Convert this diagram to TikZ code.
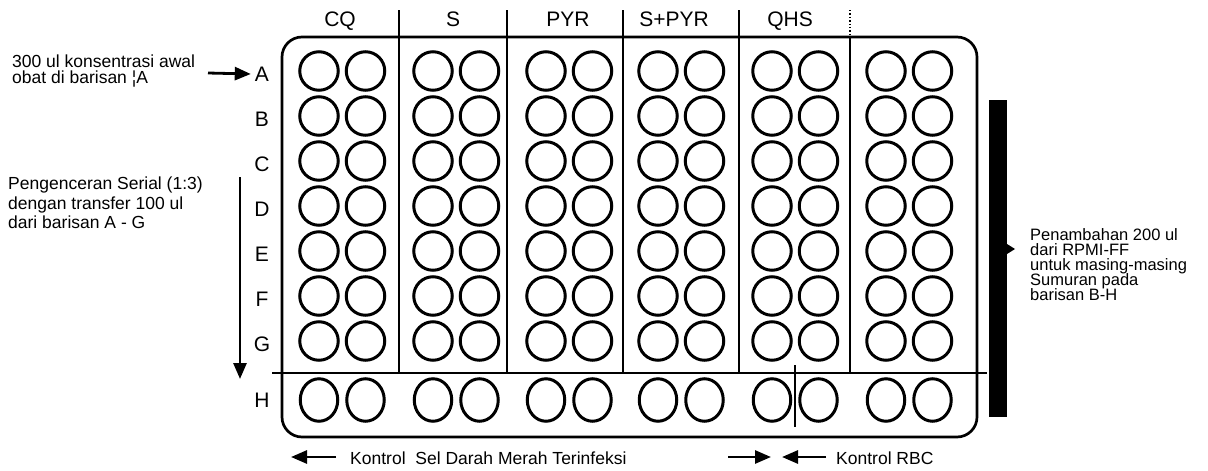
\documentclass[tikz,border=0pt]{standalone}
\usepackage{fontspec}
\setmainfont{Liberation Sans}
\usetikzlibrary{arrows.meta,shapes.geometric}
\begin{document}
\begin{tikzpicture}[x=1pt,y=-1pt,
  well/.style={draw,circle,line width=3pt,minimum size=38.5pt,inner sep=0pt},
  hwell/.style={draw,ellipse,line width=3pt,minimum width=37.5pt,minimum height=42.5pt,inner sep=0pt},
  plate/.style={draw,line width=2.7pt,rounded corners=20pt,minimum width=695pt,minimum height=400pt,inner sep=0pt},
  divider/.style={line width=2.4pt},
  rowlab/.style={font=\fontsize{21}{21}\selectfont,inner sep=0pt},
  collab/.style={font=\fontsize{21}{21}\selectfont,inner sep=0pt,anchor=base},
  note/.style={align=left,inner sep=0pt,anchor=north west},
  arr/.style={line width=2.8pt,-{Triangle[length=16pt,width=13pt]}},
]
\path[use as bounding box] (0,0) rectangle (1208,471);

% plate
\node[plate] (plate) at (629.5,237) {};

% column dividers
\foreach \xx in {399,507,623,739}
  \draw[divider] (\xx,10) -- (\xx,373);
\draw[line width=1.4pt,dotted] (850,10) -- (850,37);
\draw[divider] (850,37) -- (850,373);

% separator of row H
\draw[line width=2.8pt] (272,373) -- (987,373);
% QHS split in row H
\draw[line width=2.4pt] (795,365) -- (795,427);

% column headers
\node[collab] (hCQ) at (340,26) {CQ};
\node[collab] (hS) at (453,26) {S};
\node[collab] (hPYR) at (568,26) {PYR};
\node[collab] (hSPYR) at (674,26) {S+PYR};
\node[collab] (hQHS) at (790,26) {QHS};

% wells
\foreach \c/\xa in {1/319,2/433,3/546,4/658,5/772,6/886} {
  \foreach \r/\yy in {1/71,2/116,3/161,4/206,5/251,6/296,7/341} {
    \node[well] (w\c a\r) at (\xa,\yy) {};
    \node[well] (w\c b\r) at (\xa+46.5,\yy) {};
  }
  \node[hwell] (w\c aH) at (\xa,400) {};
  \node[hwell] (w\c bH) at (\xa+46.5,400) {};
}

% row labels
\foreach \l/\yy in {A/74,B/119,C/164,D/209,E/254,F/299,G/344,H/400}
  \node[rowlab] (lab\l) at (262,\yy) {\l};

% note: initial concentration
\node[note,font={\fontsize{17.5}{16}\selectfont\lineskiplimit=-20pt\relax}] (nInit) at (12,55)
  {300 ul konsentrasi awal\\obat di barisan ¦A};
\coordinate (aStart) at (208,73);
\draw[arr] (aStart) -- ([xshift=-4pt]labA.west);

% note: serial dilution
\node[note,font={\fontsize{17.5}{19.5}\selectfont\lineskiplimit=-20pt\relax}] (nSerial) at (8,177)
  {Pengenceran Serial (1:3)\\dengan transfer 100 ul\\dari barisan A - G};
\coordinate (sTop) at (240,177);
\coordinate (sBot) at (240,379);
\draw[arr] (sTop) -- (sBot);

% RPMI bar
\fill (989,100) rectangle (1007,417);
\fill (1007,244) -- (1015,249) -- (1007,254) -- cycle;
\node[note,font={\fontsize{16.5}{15}\selectfont\lineskiplimit=-20pt\relax}] (nRPMI) at (1030,228)
  {Penambahan 200 ul\\dari RPMI-FF\\untuk masing-masing\\Sumuran pada\\barisan B-H};

% bottom notes
\node[inner sep=0pt,anchor=base west,font=\fontsize{17.5}{18}\selectfont] (nInf) at (350,464)
  {Kontrol\ \ Sel Darah Merah Terinfeksi};
\coordinate (k1a) at (336,457);
\coordinate (k1b) at (291,457);
\draw[arr] (k1a) -- (k1b);

\node[inner sep=0pt,anchor=base west,font=\fontsize{17.5}{18}\selectfont] (nRBC) at (836,464)
  {Kontrol RBC};
\coordinate (k2a) at (728,457);
\coordinate (k2b) at (771,457);
\draw[arr] (k2a) -- (k2b);
\coordinate (k3a) at (826,457);
\coordinate (k3b) at (782,457);
\draw[arr] (k3a) -- (k3b);
\end{tikzpicture}
\end{document}
